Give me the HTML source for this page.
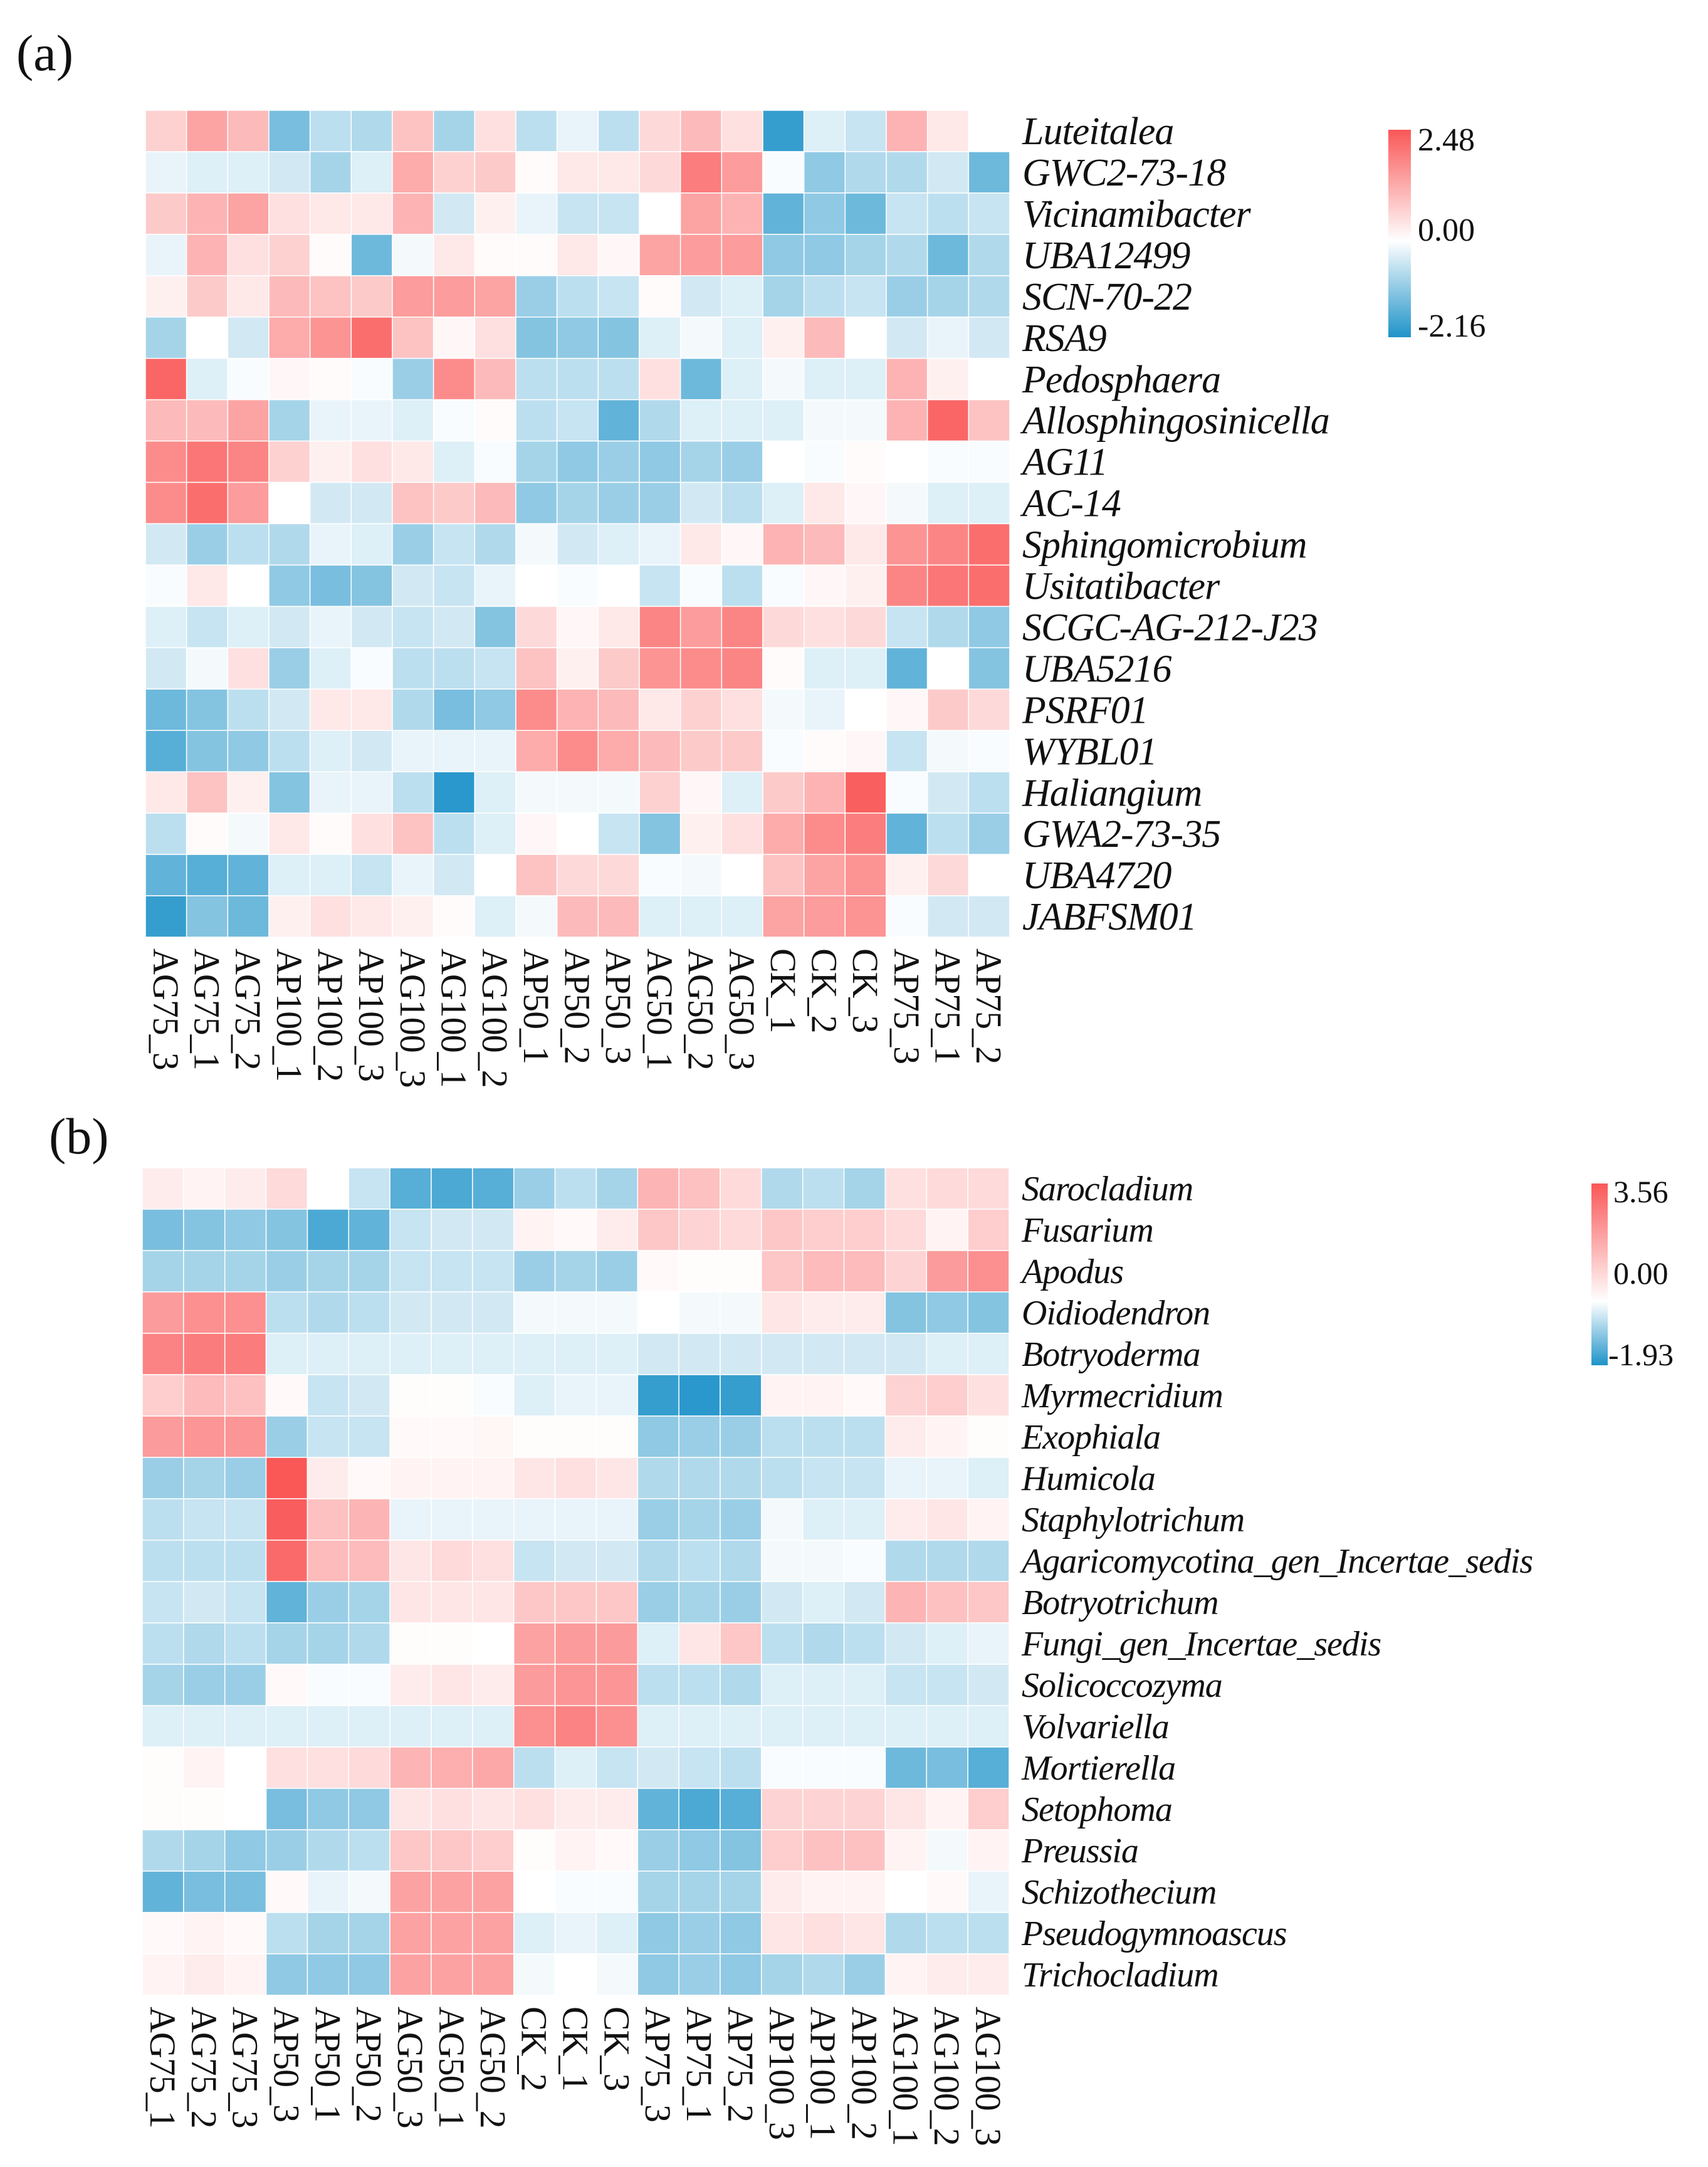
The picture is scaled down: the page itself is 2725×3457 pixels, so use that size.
<!DOCTYPE html>
<html><head><meta charset="utf-8">
<style>
html,body{margin:0;padding:0;background:#fff;}
svg{display:block;}
text{font-family:"Liberation Serif",serif;fill:#111;}
</style></head>
<body>
<svg id="fig" width="2725" height="3457" viewBox="0 0 2725 3457" xmlns="http://www.w3.org/2000/svg">
<defs>
<linearGradient id="ga" x1="0" y1="1" x2="0" y2="0">
<stop offset="0" stop-color="#1f93c9"/><stop offset="0.465" stop-color="#ffffff"/><stop offset="1" stop-color="#fa5757"/>
</linearGradient>
<linearGradient id="gb" x1="0" y1="1" x2="0" y2="0">
<stop offset="0" stop-color="#1f93c9"/><stop offset="0.35" stop-color="#ffffff"/><stop offset="1" stop-color="#fa5757"/>
</linearGradient>
</defs>
<text x="26" y="112" font-size="82">(a)</text>
<text x="78" y="1840" font-size="82">(b)</text>
<g id="ha"></g>
<g id="hb"></g>
<g>
<rect x="2215" y="207" width="36" height="331" fill="url(#ga)"/>
<text x="2262" y="240" font-size="52">2.48</text>
<text x="2262" y="384" font-size="52">0.00</text>
<text x="2262" y="537" font-size="52">-2.16</text>
</g>
<g>
<rect x="2539" y="1888" width="26" height="290" fill="url(#gb)"/>
<text x="2574" y="1918" font-size="50">3.56</text>
<text x="2574" y="2048" font-size="50">0.00</text>
<text x="2566" y="2178" font-size="50">-1.93</text>
</g>
</svg>
<script>
const colsA = ["AG75_3","AG75_1","AG75_2","AP100_1","AP100_2","AP100_3","AG100_3","AG100_1","AG100_2","AP50_1","AP50_2","AP50_3","AG50_1","AG50_2","AG50_3","CK_1","CK_2","CK_3","AP75_3","AP75_1","AP75_2"];
const rowsA = ["Luteitalea","GWC2-73-18","Vicinamibacter","UBA12499","SCN-70-22","RSA9","Pedosphaera","Allosphingosinicella","AG11","AC-14","Sphingomicrobium","Usitatibacter","SCGC-AG-212-J23","UBA5216","PSRF01","WYBL01","Haliangium","GWA2-73-35","UBA4720","JABFSM01"];
const valsA = [
[0.6,1.2,0.9,-1.2,-0.6,-0.7,0.8,-0.8,0.4,-0.6,-0.2,-0.6,0.5,0.9,0.4,-1.8,-0.3,-0.5,1.0,0.3,0],
[-0.2,-0.3,-0.3,-0.4,-0.8,-0.3,1.1,0.6,0.7,0.05,0.3,0.3,0.5,1.7,1.3,-0.05,-1.0,-0.7,-0.7,-0.4,-1.3],
[0.7,1.0,1.2,0.4,0.3,0.3,1.0,-0.4,0.2,-0.2,-0.5,-0.5,0,1.2,1.0,-1.4,-1.0,-1.3,-0.5,-0.6,-0.5],
[-0.2,1.0,0.4,0.6,0.05,-1.3,-0.1,0.3,0.05,0.05,0.3,0.1,1.2,1.3,1.3,-1.0,-1.0,-0.8,-0.7,-1.3,-0.7],
[0.2,0.7,0.3,0.9,0.8,0.7,1.3,1.3,1.2,-0.9,-0.6,-0.5,0.05,-0.4,-0.3,-0.8,-0.6,-0.5,-0.9,-0.8,-0.7],
[-0.8,0,-0.4,1.1,1.4,1.9,0.8,0.1,0.4,-1.1,-1.0,-1.1,-0.3,-0.1,-0.3,0.2,0.9,0,-0.4,-0.2,-0.4],
[2.0,-0.3,-0.05,0.1,0.05,-0.05,-0.9,1.5,0.9,-0.6,-0.6,-0.6,0.4,-1.3,-0.3,-0.1,-0.3,-0.3,1.0,0.2,0],
[0.9,0.9,1.2,-0.8,-0.2,-0.2,-0.3,-0.05,0.05,-0.6,-0.5,-1.4,-0.7,-0.3,-0.3,-0.3,-0.1,-0.1,1.0,2.0,0.8],
[1.5,1.8,1.6,0.6,0.2,0.4,0.3,-0.3,-0.05,-0.8,-1.0,-0.9,-1.0,-0.8,-0.9,0,-0.05,0.05,0,-0.05,-0.05],
[1.5,1.9,1.3,0,-0.4,-0.4,0.8,0.7,0.9,-1.0,-0.8,-0.9,-0.9,-0.4,-0.6,-0.3,0.3,0.1,-0.1,-0.3,-0.3],
[-0.4,-0.9,-0.6,-0.7,-0.2,-0.3,-0.9,-0.5,-0.7,-0.1,-0.4,-0.3,-0.2,0.3,0.1,1.0,0.9,0.3,1.4,1.6,1.9],
[-0.05,0.3,0,-1.0,-1.2,-1.1,-0.4,-0.5,-0.2,0,-0.05,0,-0.5,-0.05,-0.6,-0.05,0.1,0.2,1.6,1.8,1.9],
[-0.3,-0.5,-0.3,-0.4,-0.2,-0.4,-0.5,-0.4,-1.1,0.5,0.1,0.3,1.6,1.3,1.6,0.5,0.4,0.5,-0.5,-0.7,-1.0],
[-0.4,-0.1,0.4,-0.9,-0.3,-0.05,-0.6,-0.6,-0.5,0.8,0.2,0.7,1.4,1.5,1.6,0.05,-0.3,-0.3,-1.4,0,-1.1],
[-1.3,-1.1,-0.6,-0.4,0.3,0.3,-0.7,-1.2,-1.0,1.5,1.0,0.9,0.3,0.6,0.4,-0.1,-0.2,0,0.1,0.7,0.5],
[-1.5,-1.1,-1.0,-0.6,-0.3,-0.4,-0.2,-0.2,-0.2,1.1,1.5,1.1,0.9,0.7,0.7,-0.05,0.05,0.1,-0.5,-0.1,-0.05],
[0.3,0.8,0.2,-1.1,-0.2,-0.2,-0.6,-1.9,-0.3,-0.1,-0.1,-0.1,0.6,0.1,-0.3,0.7,1.0,2.1,-0.05,-0.4,-0.6],
[-0.6,0.05,-0.1,0.3,0.05,0.4,0.8,-0.6,-0.3,0.1,0,-0.5,-1.1,0.2,0.4,1.1,1.5,1.7,-1.4,-0.6,-0.9],
[-1.4,-1.5,-1.4,-0.3,-0.3,-0.5,-0.2,-0.4,0,0.8,0.5,0.5,-0.05,-0.1,0,0.8,1.2,1.4,0.2,0.5,0],
[-1.8,-1.1,-1.3,0.2,0.4,0.3,0.2,0.05,-0.3,-0.1,0.9,0.9,-0.3,-0.3,-0.3,1.2,1.3,1.4,-0.05,-0.4,-0.4]
];
const colsB = ["AG75_1","AG75_2","AG75_3","AP50_3","AP50_1","AP50_2","AG50_3","AG50_1","AG50_2","CK_2","CK_1","CK_3","AP75_3","AP75_1","AP75_2","AP100_3","AP100_1","AP100_2","AG100_1","AG100_2","AG100_3"];
const rowsB = ["Sarocladium","Fusarium","Apodus","Oidiodendron","Botryoderma","Myrmecridium","Exophiala","Humicola","Staphylotrichum","Agaricomycotina_gen_Incertae_sedis","Botryotrichum","Fungi_gen_Incertae_sedis","Solicoccozyma","Volvariella","Mortierella","Setophoma","Preussia","Schizothecium","Pseudogymnoascus","Trichocladium"];
const valsB = [
[0.3,0.2,0.3,0.6,0,-0.5,-1.5,-1.6,-1.5,-0.9,-0.6,-0.8,1.2,1.0,0.6,-0.7,-0.6,-0.8,0.5,0.6,0.6],
[-1.2,-1.1,-1.0,-1.1,-1.6,-1.4,-0.5,-0.4,-0.4,0.2,0.1,0.3,0.9,0.7,0.6,0.9,0.8,0.8,0.6,0.2,0.8],
[-0.8,-0.8,-0.8,-0.9,-0.8,-0.8,-0.5,-0.5,-0.5,-0.9,-0.8,-0.9,0.1,0.05,0.05,0.9,1.1,1.1,0.7,1.6,1.8],
[1.6,1.8,1.8,-0.6,-0.7,-0.6,-0.4,-0.4,-0.4,-0.1,-0.1,-0.1,0,-0.1,-0.1,0.4,0.3,0.3,-1.1,-1.0,-1.1],
[2.0,2.1,2.1,-0.3,-0.3,-0.3,-0.3,-0.3,-0.3,-0.3,-0.3,-0.3,-0.4,-0.4,-0.4,-0.4,-0.4,-0.4,-0.4,-0.3,-0.3],
[0.8,1.1,1.0,0.1,-0.5,-0.4,0.05,0.05,-0.05,-0.3,-0.2,-0.2,-1.8,-1.9,-1.8,0.2,0.2,0.1,0.7,0.8,0.5],
[1.6,1.7,1.7,-0.9,-0.5,-0.5,0.1,0.1,0.15,0.05,0.05,0.05,-1.0,-0.9,-0.9,-0.6,-0.6,-0.6,0.3,0.2,0.05],
[-0.9,-0.8,-0.9,3.0,0.3,0.1,0.2,0.2,0.2,0.4,0.5,0.4,-0.7,-0.7,-0.7,-0.6,-0.5,-0.5,-0.2,-0.2,-0.3],
[-0.6,-0.5,-0.5,2.6,1.0,1.2,-0.2,-0.2,-0.2,-0.2,-0.2,-0.2,-0.9,-0.8,-0.9,-0.1,-0.3,-0.3,0.3,0.4,0.2],
[-0.6,-0.6,-0.6,2.4,1.1,1.1,0.4,0.6,0.5,-0.5,-0.4,-0.4,-0.7,-0.6,-0.7,-0.1,-0.1,-0.05,-0.7,-0.7,-0.7],
[-0.5,-0.4,-0.5,-1.4,-0.9,-0.8,0.4,0.4,0.4,0.9,0.9,0.9,-0.9,-0.8,-0.9,-0.4,-0.3,-0.4,1.2,1.0,0.9],
[-0.6,-0.7,-0.6,-0.8,-0.8,-0.7,0.05,0.05,0,1.5,1.6,1.6,-0.3,0.4,0.9,-0.6,-0.7,-0.6,-0.4,-0.3,-0.2],
[-0.8,-0.9,-0.9,0.1,-0.05,-0.05,0.3,0.4,0.3,1.6,1.7,1.7,-0.6,-0.6,-0.7,-0.3,-0.3,-0.3,-0.5,-0.5,-0.4],
[-0.3,-0.3,-0.3,-0.3,-0.3,-0.3,-0.3,-0.3,-0.3,1.8,2.0,1.8,-0.3,-0.3,-0.3,-0.3,-0.3,-0.3,-0.3,-0.3,-0.3],
[0.05,0.2,0,0.5,0.5,0.6,1.2,1.3,1.4,-0.6,-0.3,-0.5,-0.4,-0.5,-0.6,-0.05,-0.05,-0.05,-1.3,-1.2,-1.5],
[0.05,0.05,0,-1.2,-1.0,-1.0,0.4,0.5,0.4,0.5,0.3,0.3,-1.4,-1.6,-1.5,0.7,0.7,0.7,0.4,0.2,0.8],
[-0.7,-0.8,-1.0,-0.9,-0.7,-0.6,0.9,0.9,0.8,0.05,0.2,0.1,-0.9,-1.0,-1.1,0.8,1.0,1.0,0.2,-0.1,0.2],
[-1.4,-1.2,-1.2,0.1,-0.2,-0.1,1.5,1.5,1.5,0,-0.05,-0.05,-0.8,-0.8,-0.8,0.3,0.2,0.2,0,0.1,-0.2],
[0.1,0.2,0.1,-0.6,-0.8,-0.8,1.5,1.5,1.5,-0.3,-0.2,-0.3,-1.0,-0.9,-1.0,0.4,0.5,0.4,-0.7,-0.6,-0.6],
[0.2,0.3,0.2,-1.0,-1.0,-1.0,1.5,1.5,1.5,-0.1,0,-0.1,-1.0,-0.9,-1.0,-0.8,-0.7,-0.9,0.2,0.3,0.3]
];
const NS="http://www.w3.org/2000/svg";
function colorOf(v,posMax){
  const lo=[31,147,201], hi=[250,87,87];
  let t, c;
  if(v>=0){ t=Math.min(v/posMax,1); c=hi; } else { t=Math.min(-v/2.0,1); c=lo; }
  const r=Math.round(255+(c[0]-255)*t), g=Math.round(255+(c[1]-255)*t), b=Math.round(255+(c[2]-255)*t);
  return "rgb("+r+","+g+","+b+")";
}
function draw(gid, cols, rows, vals, x0, y0, x1, y1, rowFont, posMax){
  const g=document.getElementById(gid);
  const cw=(x1-x0)/cols.length, rh=(y1-y0)/rows.length;
  const xs=i=>x0+i*cw, ys=j=>y0+j*rh;
  for(let j=0;j<rows.length;j++){
    for(let i=0;i<cols.length;i++){
      const r=document.createElementNS(NS,"rect");
      r.setAttribute("x",xs(i));r.setAttribute("y",ys(j));
      r.setAttribute("width",cw);r.setAttribute("height",rh);
      r.setAttribute("fill",colorOf(vals[j][i],posMax));
      r.setAttribute("stroke","#ffffff");r.setAttribute("stroke-width","1.5");
      
      
      g.appendChild(r);
    }
    const t=document.createElementNS(NS,"text");
    t.setAttribute("x",x1+20);t.setAttribute("y",ys(j)+rh/2+rowFont*0.34);
    t.setAttribute("font-size",rowFont);t.setAttribute("font-style","italic");
    t.setAttribute("letter-spacing","-1");
    t.textContent=rows[j];
    
    
    g.appendChild(t);
  }
  for(let i=0;i<cols.length;i++){
    const t=document.createElementNS(NS,"text");
    const cx=xs(i)+cw/2-20, cy=y1+18;
    t.setAttribute("x",cx);t.setAttribute("y",cy);
    t.setAttribute("font-size","58");
    t.setAttribute("letter-spacing","-1");
    t.setAttribute("transform","rotate(90 "+cx+" "+cy+")");
    t.textContent=cols[i];
    
    
    g.appendChild(t);
  }
}
draw("ha",colsA,rowsA,valsA,232,176,1611,1495,62,2.2);
draw("hb",colsB,rowsB,valsB,227,1863,1610,3183,56,2.7);
</script>
</body></html>
